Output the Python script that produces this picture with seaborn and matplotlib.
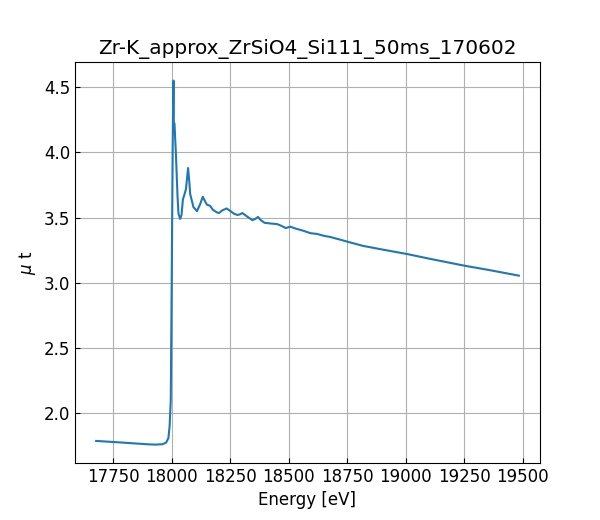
import matplotlib
matplotlib.use("Agg")
import matplotlib.pyplot as plt
import seaborn as sns
import pandas as pd

energy = [17676, 17750, 17850, 17900, 17930, 17960, 17975, 17985, 17990, 17995,
          17999, 18003, 18006, 18007, 18008, 18011, 18014, 18017, 18024, 18028,
          18035, 18041, 18047, 18054, 18060, 18069, 18074, 18078, 18092, 18107,
          18120, 18132, 18140, 18149, 18163, 18175, 18192, 18201, 18215,
          18234, 18250, 18265, 18280, 18291, 18301, 18320, 18344, 18356, 18368,
          18380, 18396, 18420, 18450, 18470, 18486, 18507, 18530, 18560, 18593,
          18620, 18650, 18675, 18721, 18753, 18817, 18900, 19007, 19100, 19254,
          19350, 19483]
mu_t = [1.788, 1.780, 1.768, 1.762, 1.760, 1.763, 1.775, 1.81, 1.90, 2.1,
        3.0, 4.0, 4.55, 4.55, 4.23, 4.22, 4.10, 3.99, 3.66, 3.53,
        3.49, 3.52, 3.64, 3.68, 3.72, 3.88, 3.78, 3.68, 3.58, 3.55,
        3.60, 3.66, 3.63, 3.60, 3.59, 3.56, 3.54, 3.535, 3.555,
        3.57, 3.55, 3.53, 3.52, 3.525, 3.535, 3.51, 3.48, 3.49, 3.505,
        3.48, 3.46, 3.455, 3.45, 3.435, 3.42, 3.43, 3.415, 3.40, 3.38,
        3.375, 3.36, 3.352, 3.33, 3.314, 3.283, 3.255, 3.22, 3.185, 3.13,
        3.10, 3.055]

title = "Zr-K_approx_ZrSiO4_Si111_50ms_170602"
xlabel = "Energy [eV]"
ylabel = "$\\mu$ t"

plt.rcParams["font.family"] = ["DejaVu Sans"]
plt.rcParams["font.size"] = 12
plt.rcParams["xtick.direction"] = "in"
plt.rcParams["ytick.direction"] = "in"

df = pd.DataFrame({"energy": energy, "mu_t": mu_t})
fig, ax = plt.subplots(figsize=(6, 5.2), dpi=100)
fig.subplots_adjust(left=0.125, right=0.9, top=0.88, bottom=0.11)
sns.lineplot(data=df, x="energy", y="mu_t", ax=ax, color="#1f77b4", linewidth=1.5, sort=False)
ax.grid(True, color="#b0b0b0", linewidth=0.8)
ax.set_axisbelow(True)
ax.set_title(title, fontsize=14.4)
ax.set_xlabel(xlabel, fontsize=12)
ax.set_ylabel(ylabel, fontsize=12)
ax.tick_params(labelsize=12)
fig.savefig("out.png", dpi=100)
